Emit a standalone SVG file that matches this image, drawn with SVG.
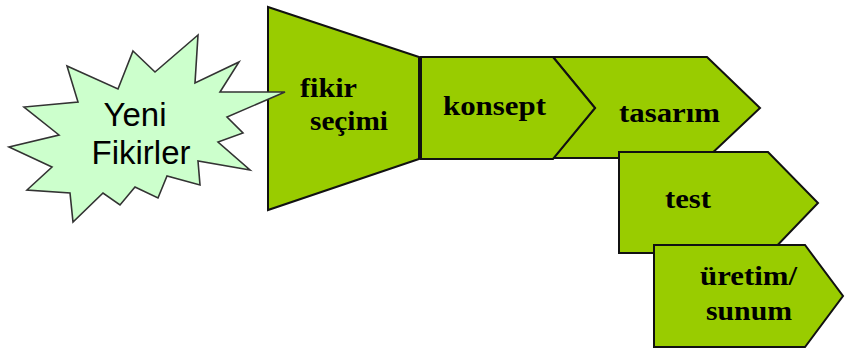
<svg xmlns="http://www.w3.org/2000/svg" width="845" height="351" viewBox="0 0 845 351">
<style>
.stage{fill:#99cc00;stroke:#111;stroke-width:2;stroke-linejoin:miter}
.burst{fill:#ccffcc;stroke:#333;stroke-width:1.6;stroke-linejoin:miter}
.lbl{font-family:"Liberation Serif","Times New Roman",serif;font-weight:bold;font-size:27px;fill:#000}
.blbl{font-family:"Liberation Sans",Arial,sans-serif;font-size:33px;fill:#000;text-anchor:middle}
</style>
<g id="connectors"></g>
<g id="fikir-secimi">
<polygon class="stage" points="268,7 419,57 419,159 268,210"/>
<text class="lbl" x="300" y="97" textLength="57" lengthAdjust="spacingAndGlyphs">fikir</text>
<text class="lbl" x="310" y="130" textLength="78" lengthAdjust="spacingAndGlyphs">seçimi</text>
</g>
<g id="yeni-fikirler">
<polygon class="burst" points="133,51 155,72 198,35 195,83 239,62 220,92 285,92 227,117 243,133 218,142 250,170 198,161 200,185 167,176 158,198 135,187 120,205 103,193 73,222 70,193 27,190 52,167 9,147 59,135 24,107 78,102 67,66 118,89"/>
<text class="blbl" x="135" y="126">Yeni</text>
<text class="blbl" x="141" y="164">Fikirler</text>
</g>
<g id="tasarim">
<polygon class="stage" points="553,57 707,57 760,108 707,158 553,158 595,108"/>
<text class="lbl" x="619" y="122" textLength="101" lengthAdjust="spacingAndGlyphs">tasarım</text>
</g>
<g id="konsept">
<polygon class="stage" points="421,57 553,57 595,108 553,159 421,159"/>
<text class="lbl" x="443" y="115" textLength="103" lengthAdjust="spacingAndGlyphs">konsept</text>
</g>
<g id="test">
<polygon class="stage" points="619,152 768,152 818,203 770,253 619,253"/>
<text class="lbl" x="665" y="208" textLength="46" lengthAdjust="spacingAndGlyphs">test</text>
</g>
<g id="uretim-sunum">
<polygon class="stage" points="654,245 805,245 843,296 805,347 654,347"/>
<text class="lbl" x="700" y="285" textLength="97" lengthAdjust="spacingAndGlyphs">üretim/</text>
<text class="lbl" x="706" y="320" textLength="86" lengthAdjust="spacingAndGlyphs">sunum</text>
</g>
</svg>
